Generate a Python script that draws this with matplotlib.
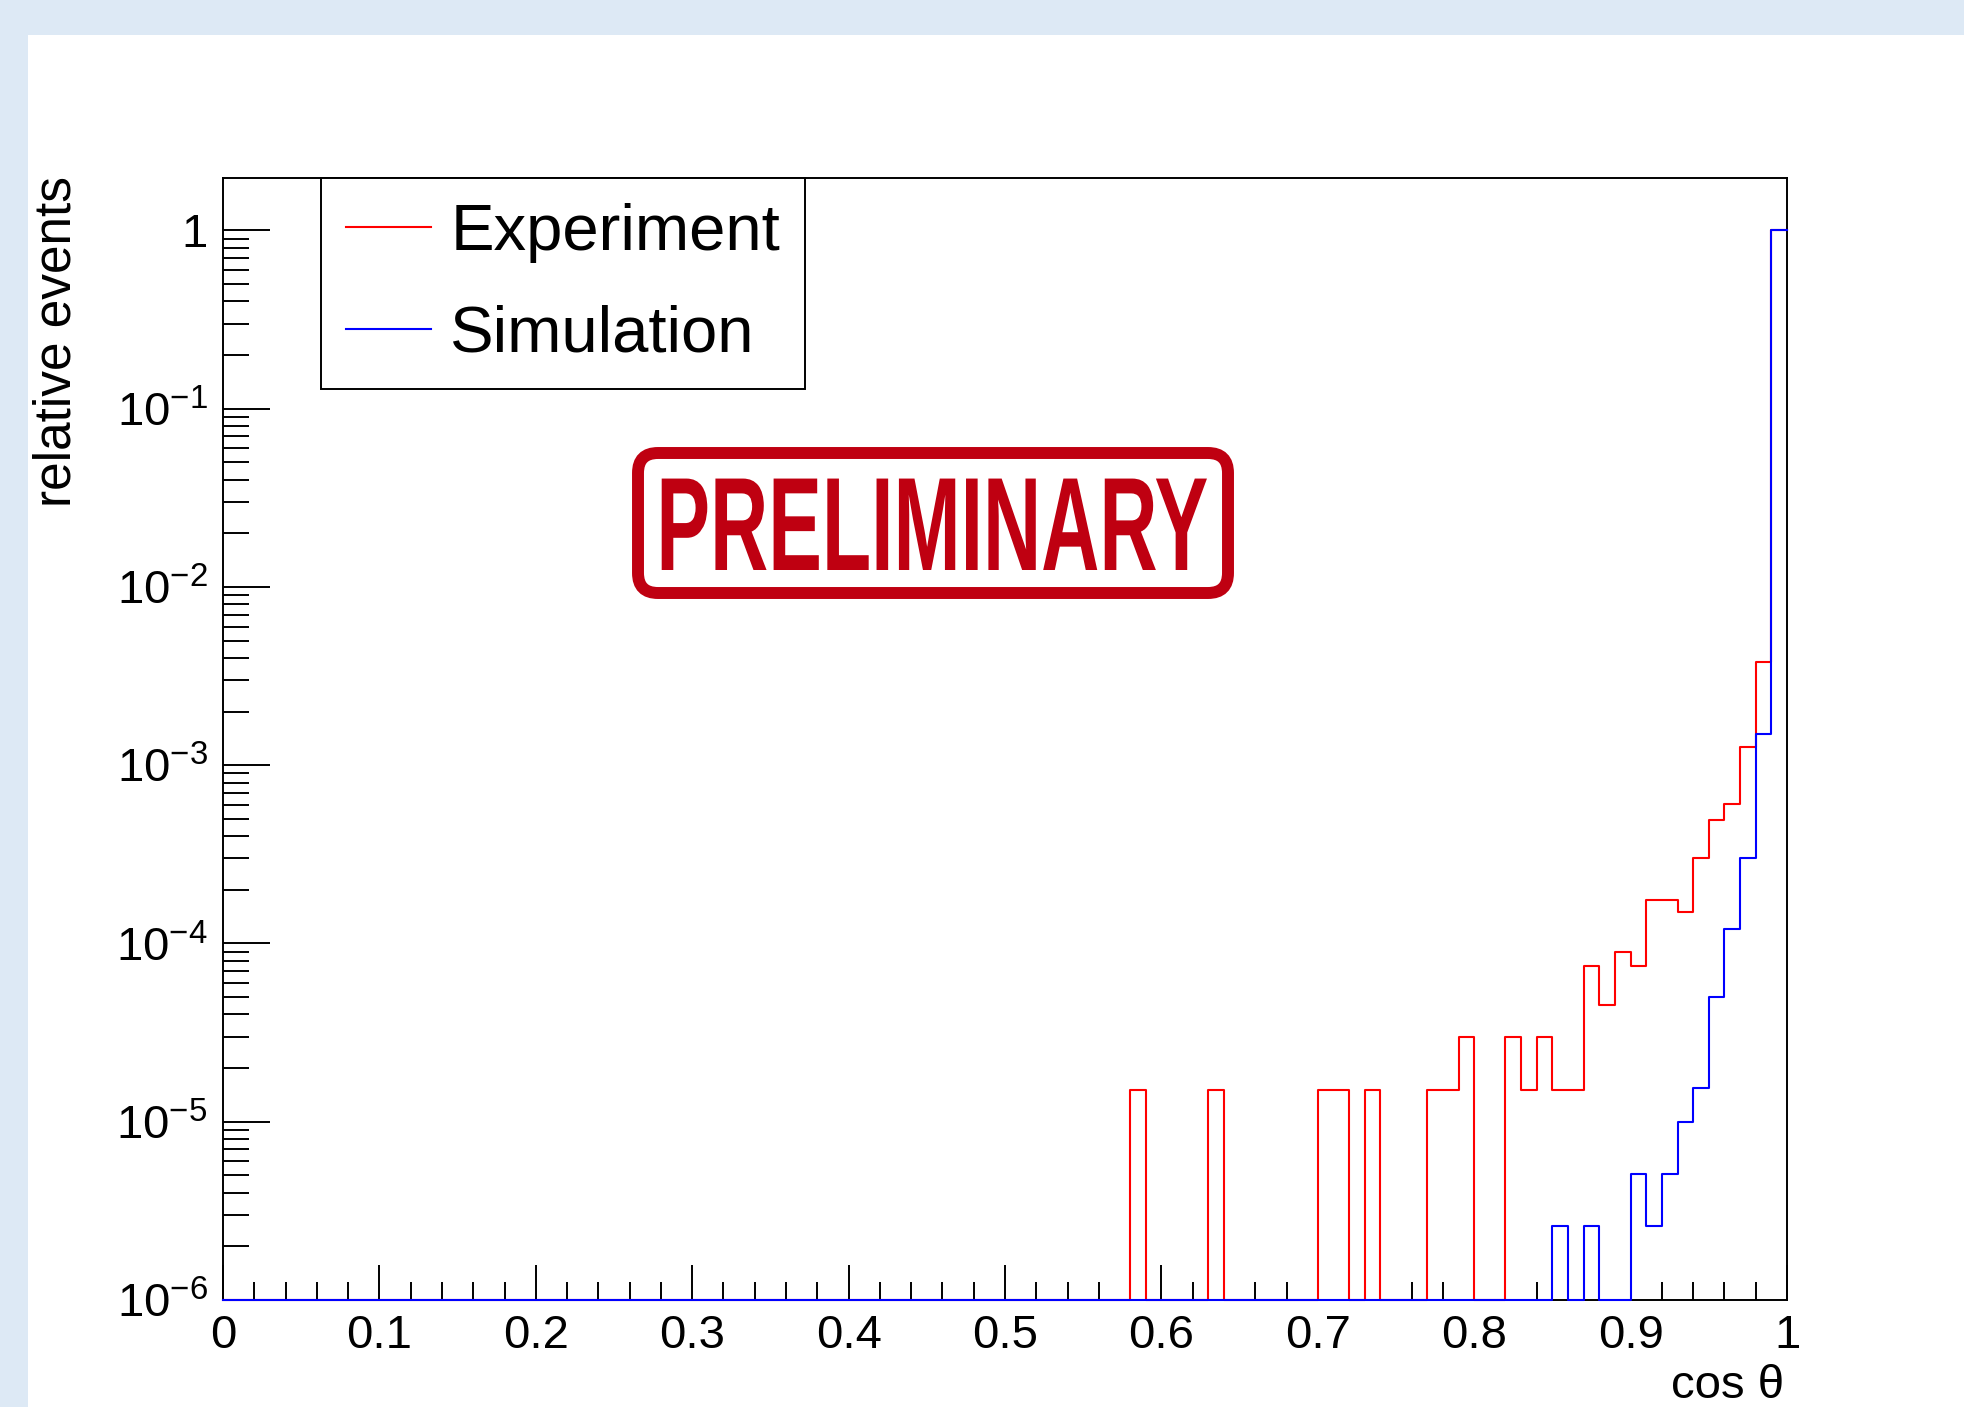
import numpy as np
import matplotlib
matplotlib.use('Agg')
import matplotlib.pyplot as plt
from matplotlib import patheffects
from matplotlib.patches import Rectangle, FancyBboxPatch
from matplotlib.transforms import Affine2D
from matplotlib.ticker import MultipleLocator, LogLocator, FuncFormatter, NullFormatter

plt.rcParams['font.family'] = ['Liberation Sans', 'DejaVu Sans']
plt.rcParams['mathtext.fontset'] = 'custom'
plt.rcParams['mathtext.rm'] = 'Liberation Sans'

W, H = 1964, 1407

# cos(theta) histogram, 100 bins in [0,1]
n_bins = 100
exp_first_bin = 58
exp_tail = [1.5e-5, 0, 0, 0, 0, 1.5e-5, 0, 0, 0, 0, 0, 0,
            1.5e-5, 1.5e-5, 0, 1.5e-5, 0, 0, 0, 1.5e-5, 1.5e-5, 3.0e-5,
            0, 0, 3.0e-5, 1.5e-5, 3.0e-5, 1.5e-5, 1.5e-5, 7.5e-5, 4.5e-5,
            9.0e-5, 7.5e-5, 1.75e-4, 1.75e-4, 1.5e-4, 3.0e-4, 4.9e-4,
            6.1e-4, 1.26e-3, 3.8e-3, 1.0]
sim_first_bin = 85
sim_tail = [2.6e-6, 0, 2.6e-6, 0, 0, 5.1e-6, 2.6e-6, 5.1e-6, 1.0e-5,
            1.55e-5, 5.0e-5, 1.2e-4, 3.0e-4, 1.5e-3, 1.0]

ymin, ymax = 1e-6, 1.97
x_ticks = [0, 0.1, 0.2, 0.3, 0.4, 0.5, 0.6, 0.7, 0.8, 0.9, 1]
x_labels = ['0', '0.1', '0.2', '0.3', '0.4', '0.5', '0.6', '0.7', '0.8', '0.9', '1']

edges = np.linspace(0, 1, n_bins + 1)
exp_vals = np.zeros(n_bins)
exp_vals[exp_first_bin:] = exp_tail
sim_vals = np.zeros(n_bins)
sim_vals[sim_first_bin:] = sim_tail


class Stretch(patheffects.AbstractPathEffect):
    # stretch glyphs vertically about the baseline (condensed stamp look)
    def __init__(self, sy):
        super().__init__()
        self.sy = sy

    def draw_path(self, renderer, gc, tpath, affine, rgbFace=None):
        renderer.draw_path(gc, tpath, Affine2D().scale(1, self.sy) + affine, rgbFace)


fig = plt.figure(figsize=(W / 100, H / 100), dpi=100)
fig.patch.set_facecolor('#DDE9F5')
fig.add_artist(Rectangle((28 / W, 0), 1, 1 - 35 / H, transform=fig.transFigure,
                         facecolor='white', edgecolor='none', zorder=-10))

ax = fig.add_axes([223 / W, 1 - 1300 / H, 1564 / W, (1300 - 178) / H])

for vals, col, lab in [(exp_vals, 'red', 'Experiment'), (sim_vals, 'blue', 'Simulation')]:
    v = np.where(vals > 0, vals, ymin)
    ax.step(edges, np.append(v, v[-1]), where='post', color=col, lw=1.5,
            label=lab, clip_on=False, zorder=3)

ax.set_xlim(0, 1)
ax.set_yscale('log')
ax.set_ylim(ymin, ymax)

ax.set_xticks(x_ticks)
ax.set_xticklabels(x_labels)
ax.xaxis.set_minor_locator(MultipleLocator(0.02))
ax.yaxis.set_major_locator(LogLocator(base=10, numticks=20))
ax.yaxis.set_minor_locator(LogLocator(base=10, subs=np.arange(2, 10), numticks=20))
ax.yaxis.set_major_formatter(FuncFormatter(
    lambda v, p: '1' if abs(v - 1) < 1e-9 else r'$\mathregular{10^{%d}}$' % round(np.log10(v))))
ax.yaxis.set_minor_formatter(NullFormatter())

ax.tick_params(axis='x', which='major', direction='in', length=25, width=1.4,
               labelsize=34, pad=10, top=False)
ax.tick_params(axis='x', which='minor', direction='in', length=13, width=1.4, top=False)
ax.tick_params(axis='y', which='major', direction='in', length=34, width=1.4,
               labelsize=34, pad=11, right=False)
ax.tick_params(axis='y', which='minor', direction='in', length=18.5, width=1.4, right=False)
for s in ax.spines.values():
    s.set_linewidth(1.4)

fig.text(57 / W, 1 - 176 / H, 'relative events', rotation=90, ha='center', va='top',
         fontsize=37)
fig.text(1784 / W, 1 - 1364 / H, 'cos θ', ha='right', va='top', fontsize=34)

leg = ax.legend(loc='upper left', bbox_to_anchor=(98 / 1564, 1.0), borderaxespad=0,
                fontsize=47, fancybox=False, edgecolor='black', framealpha=1,
                borderpad=0.38, labelspacing=0.64, handlelength=1.3,
                handletextpad=0.3)
leg.get_frame().set_linewidth(1.4)

stamp_red = '#BF0011'
fig.add_artist(FancyBboxPatch((6.38, 14.07 - 5.93), 5.90, 1.40,
                              boxstyle='round,pad=0,rounding_size=0.2',
                              transform=fig.dpi_scale_trans, fill=False,
                              edgecolor=stamp_red, lw=8.6, zorder=4))
fig.text(932 / W, 1 - 570 / H, 'PRELIMINARY', ha='center', va='baseline',
         fontsize=58, fontweight='bold', color=stamp_red,
         path_effects=[Stretch(1.65)], zorder=5)

fig.savefig('out.png', dpi=100, facecolor=fig.get_facecolor())
